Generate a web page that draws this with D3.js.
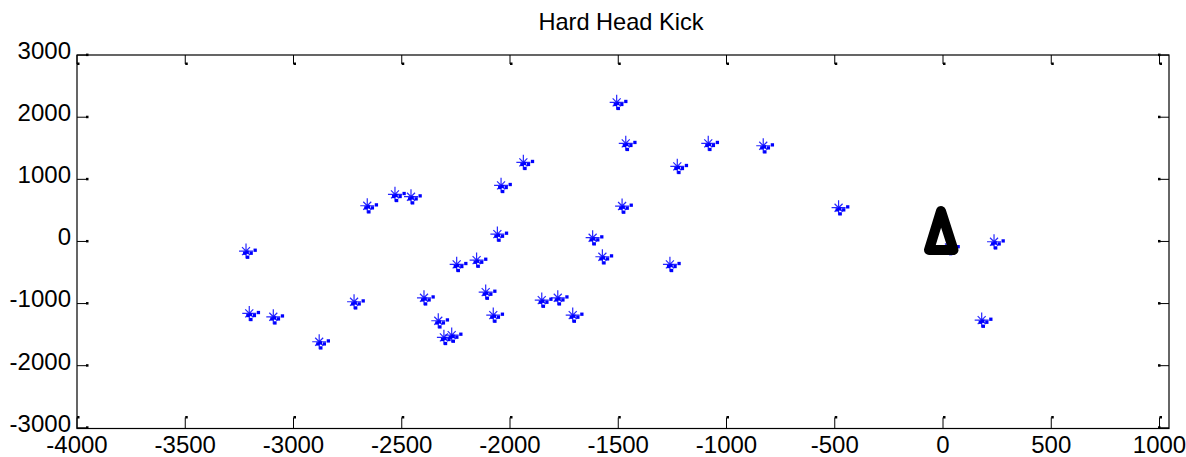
<!DOCTYPE html>
<html>
<head>
<meta charset="utf-8">
<script src="https://cdn.jsdelivr.net/npm/d3@7/dist/d3.min.js"></script>
<style>
  body { margin: 0; background: #fff; }
  svg { display: block; }
</style>
</head>
<body>
<svg id="chart"></svg>
<script>
// chart data
const chartTitle = 'Hard Head Kick';
const xTickValues = [-4000, -3500, -3000, -2500, -2000, -1500, -1000, -500, 0, 500, 1000];
const yTickValues = [-3000, -2000, -1000, 0, 1000, 2000, 3000];

// kick end points (blue asterisks)
const kickX = [-1505, -1463, -1082, -828, -1936, -1225, -2039, -2529, -2455, -2657,
               -1480, -480, -2056, -1616, -3217, -1571, -2244, -2152, -1259, -2110,
               -2395, -2718, -1851, -1777, -3202, -3091, -2075, -1708, -2329, -2303,
               -2267, -2879, 238, 181, 30];
const kickY = [2232, 1572, 1572, 1533, 1266, 1201, 895, 750, 712, 567,
               562, 535, 111, 52, -163, -254, -377, -308, -377, -823,
               -915, -979, -952, -915, -1166, -1221, -1193, -1193, -1285, -1552,
               -1515, -1623, -13, -1274, -106];

// robot start (black triangle)
const robotX = [0];
const robotY = [0];

const width = 1186, height = 457;
const box = {left: 77, right: 1169, top: 55, bottom: 428.5};

const svg = d3.select('#chart')
    .attr('width', width)
    .attr('height', height)
    .style('font-family', "'Liberation Sans', Arial, sans-serif");

const x = d3.scaleLinear().domain([-4000, 1000]).range([76.5, 1159]);
const y = d3.scaleLinear().domain([-3000, 3000]).range([427.3, 54.6]);

// title
svg.append('text')
    .attr('x', 621)
    .attr('y', 29.5)
    .attr('text-anchor', 'middle')
    .attr('font-size', 23.6)
    .attr('fill', '#000')
    .text(chartTitle);

// axes, ticks pointing inwards like matlab
function styleAxis(g) {
  g.attr('font-size', 24)
   .attr('font-family', "'Liberation Sans', Arial, sans-serif");
  g.select('.domain').remove();
  g.selectAll('.tick line').attr('stroke', '#000').attr('stroke-width', 1);
}

const xAxis = svg.append('g')
    .attr('transform', 'translate(0,' + box.bottom + ')')
    .call(d3.axisBottom(x).tickValues(xTickValues).tickSizeInner(-11).tickSizeOuter(0).tickPadding(7.5))
    .call(styleAxis);
xAxis.selectAll('.tick text').text((d) => String(d));
xAxis.selectAll('.tick').append('rect')
    .attr('x', 0).attr('y', -12.5).attr('width', 2.5).attr('height', 2.5).attr('fill', '#000');

const yAxis = svg.append('g')
    .attr('transform', 'translate(' + box.left + ',0)')
    .call(d3.axisLeft(y).tickValues(yTickValues).tickSizeInner(-10).tickSizeOuter(0).tickPadding(6))
    .call(styleAxis);
yAxis.selectAll('.tick text').attr('dy', '0.16em').text((d) => String(d));
yAxis.selectAll('.tick').append('rect')
    .attr('x', 9).attr('y', -1.5).attr('width', 2.5).attr('height', 2.5).attr('fill', '#000');

const topAxis = svg.append('g')
    .attr('transform', 'translate(0,' + box.top + ')')
    .call(d3.axisTop(x).tickValues(xTickValues).tickSizeInner(-9).tickSizeOuter(0).tickFormat(''))
    .call(styleAxis);
topAxis.selectAll('.tick').append('rect')
    .attr('x', 0).attr('y', 7.5).attr('width', 2.5).attr('height', 2.5).attr('fill', '#000');

const rightAxis = svg.append('g')
    .attr('transform', 'translate(' + box.right + ',0)')
    .call(d3.axisRight(y).tickValues(yTickValues).tickSizeInner(-10).tickSizeOuter(0).tickFormat(''))
    .call(styleAxis);
rightAxis.selectAll('.tick').append('rect')
    .attr('x', -11).attr('y', -1.5).attr('width', 2.5).attr('height', 2.5).attr('fill', '#000');

// box
svg.append('rect')
    .attr('x', box.left)
    .attr('y', box.top)
    .attr('width', box.right - box.left)
    .attr('height', box.bottom - box.top)
    .attr('fill', 'none')
    .attr('stroke', '#000')
    .attr('stroke-width', 1.2);

// blue kick markers: asterisk plus dot cluster
const kicks = kickX.map((d, i) => ({x: d, y: kickY[i]}));
const dotOffsets = [[-3, 0.5], [-0.5, -0.5], [3.5, 0.5], [7.5, -2.5], [0, 4.5]];

const marks = svg.append('g').selectAll('g')
    .data(kicks)
    .enter()
    .append('g')
    .attr('transform', (d) => 'translate(' + x(d.x) + ',' + y(d.y) + ')');

marks.append('path')
    .attr('d', 'M-7,0H7M0,-7.5V7.5M-4,-4L4,4M-4,4L4,-4')
    .attr('stroke', '#0000ff')
    .attr('stroke-width', 1.2)
    .attr('stroke-opacity', 0.85)
    .attr('fill', 'none');

marks.selectAll('rect')
    .data(dotOffsets)
    .enter()
    .append('rect')
    .attr('x', (o) => o[0])
    .attr('y', (o) => o[1])
    .attr('width', 3.3)
    .attr('height', 3.3)
    .attr('fill', '#0000ff');

// robot triangle
const robots = robotX.map((d, i) => ({x: d, y: robotY[i]}));
svg.append('g').selectAll('path')
    .data(robots)
    .enter()
    .append('path')
    .attr('transform', (d) => 'translate(' + x(d.x) + ',' + y(d.y) + ')')
    .attr('d', 'M-1.5,-30L11,9L-13.5,9Z')
    .attr('fill', 'none')
    .attr('stroke', '#000')
    .attr('stroke-width', 10)
    .attr('stroke-linejoin', 'round');
</script>
</body>
</html>
